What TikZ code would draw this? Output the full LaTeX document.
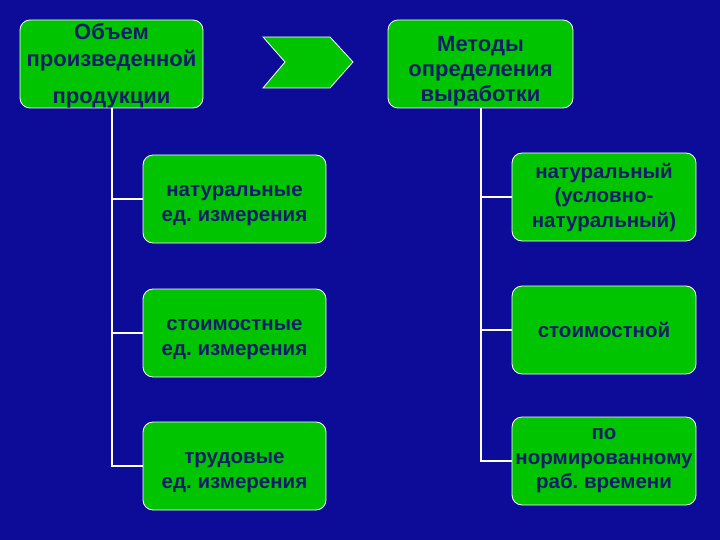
\documentclass[tikz,border=0pt]{standalone}
\usepackage{fontspec}
\setmainfont{Liberation Sans}
\usetikzlibrary{positioning}
\definecolor{bgblue}{RGB}{12,12,152}
\definecolor{boxgreen}{RGB}{0,196,0}
\definecolor{txtnavy}{RGB}{16,30,105}
\newcommand{\dropline}[1]{\rule{0pt}{#1}}
\frenchspacing

\begin{document}
\begin{tikzpicture}[x=1pt,y=-1pt,
  box/.style={draw=white,line width=0.8pt,fill=boxgreen,rounded corners=10pt,
    minimum width=183pt,minimum height=88pt,inner sep=0pt,align=center,
    text=txtnavy,font=\fontsize{20.5}{24.5}\selectfont\bfseries},
  head/.style={box,font=\fontsize{22}{25}\selectfont\bfseries},
  link/.style={draw=white,line width=2pt}]
  % background
  \fill[bgblue] (0,0) rectangle (720,540);
  % headers
  \node[head,text height=84pt,text depth=4pt] (volume) at (111.5,64) {Объем\\[2pt]произведенной\\[12pt]продукции};
  \node[head,minimum width=185pt] (methods) at (480.5,64) {\dropline{30pt}Методы\\определения\\выработки};
  \draw[draw=white,line width=0.8pt,fill=boxgreen]
    (263,37) -- (330,37) -- (353,62) -- (330,88) -- (263,88) -- (285,62) -- cycle;
  % units
  \node[box] (natunit) at (234.5,199) {\dropline{24pt}натуральные\\ед. измерения};
  \node[box] (costunit) at (234.5,333) {\dropline{24pt}стоимостные\\ед. измерения};
  \node[box] (labunit) at (234.5,466) {\dropline{24pt}трудовые\\ед. измерения};
  % methods
  \node[box,minimum width=184pt] (natmeth) at (604,197) {натуральный\\(условно-\\натуральный)};
  \node[box,minimum width=184pt] (costmeth) at (604,330) {стоимостной};
  \node[box,minimum width=184pt] (normmeth) at (604,461) {по\\нормированному\\раб. времени};
  % connectors
  \draw[link] (volume.south) |- (labunit.west);
  \draw[link] (volume.south |- natunit.west) -- (natunit.west);
  \draw[link] (volume.south |- costunit.west) -- (costunit.west);
  \draw[link] (methods.south) |- (normmeth.west);
  \draw[link] (methods.south |- natmeth.west) -- (natmeth.west);
  \draw[link] (methods.south |- costmeth.west) -- (costmeth.west);
\end{tikzpicture}
\end{document}
